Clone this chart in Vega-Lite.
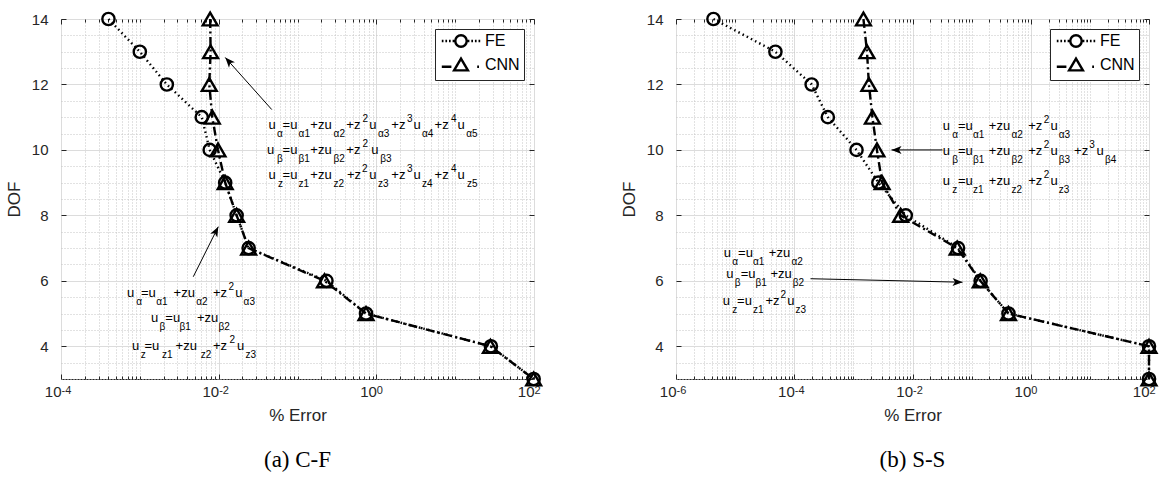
{
  "$schema": "https://vega.github.io/schema/vega-lite/v6.json",
  "padding": {"left": 4, "top": 7, "right": 4, "bottom": 4},
  "spacing": 142,
  "bounds": "flush",
  "resolve": {"scale": {"shape": "independent"}, "legend": {"shape": "independent"}},
  "config": {
    "font": "Liberation Sans",
    "view": {"stroke": "#262626", "strokeWidth": 1},
    "axis": {"labelFont": "Liberation Sans", "labelFontSize": 15, "labelColor": "#262626", "titleFont": "Liberation Sans", "titleFontSize": 17, "titleFontWeight": "normal", "titleColor": "#262626", "domain": false, "tickColor": "#262626", "tickWidth": 1}
  },
  "datasets": {
    "ptsA": [
      {"m": "FE", "x": 0.0004, "y": 14}, {"m": "FE", "x": 0.001, "y": 13}, {"m": "FE", "x": 0.0022, "y": 12}, {"m": "FE", "x": 0.0061, "y": 11}, {"m": "FE", "x": 0.0077, "y": 10}, {"m": "FE", "x": 0.0121, "y": 9}, {"m": "FE", "x": 0.0169, "y": 8}, {"m": "FE", "x": 0.024, "y": 7}, {"m": "FE", "x": 0.233, "y": 6}, {"m": "FE", "x": 0.74, "y": 5}, {"m": "FE", "x": 28.4, "y": 4}, {"m": "FE", "x": 99, "y": 3},
      {"m": "CNN", "x": 0.0078, "y": 14}, {"m": "CNN", "x": 0.0079, "y": 13}, {"m": "CNN", "x": 0.0076, "y": 12}, {"m": "CNN", "x": 0.0083, "y": 11}, {"m": "CNN", "x": 0.0098, "y": 10}, {"m": "CNN", "x": 0.0121, "y": 9}, {"m": "CNN", "x": 0.0169, "y": 8}, {"m": "CNN", "x": 0.024, "y": 7}, {"m": "CNN", "x": 0.22, "y": 6}, {"m": "CNN", "x": 0.74, "y": 5}, {"m": "CNN", "x": 28, "y": 4}, {"m": "CNN", "x": 99, "y": 3}
    ],
    "ptsB": [
      {"m": "FE", "x": 0.0000043, "y": 14}, {"m": "FE", "x": 0.000048, "y": 13}, {"m": "FE", "x": 0.000197, "y": 12}, {"m": "FE", "x": 0.00037, "y": 11}, {"m": "FE", "x": 0.00113, "y": 10}, {"m": "FE", "x": 0.00265, "y": 9}, {"m": "FE", "x": 0.0077, "y": 8}, {"m": "FE", "x": 0.059, "y": 7}, {"m": "FE", "x": 0.142, "y": 6}, {"m": "FE", "x": 0.42, "y": 5}, {"m": "FE", "x": 100, "y": 4}, {"m": "FE", "x": 100, "y": 3},
      {"m": "CNN", "x": 0.00148, "y": 14}, {"m": "CNN", "x": 0.0017, "y": 13}, {"m": "CNN", "x": 0.00183, "y": 12}, {"m": "CNN", "x": 0.0021, "y": 11}, {"m": "CNN", "x": 0.0025, "y": 10}, {"m": "CNN", "x": 0.00306, "y": 9}, {"m": "CNN", "x": 0.0063, "y": 8}, {"m": "CNN", "x": 0.057, "y": 7}, {"m": "CNN", "x": 0.14, "y": 6}, {"m": "CNN", "x": 0.42, "y": 5}, {"m": "CNN", "x": 100, "y": 4}, {"m": "CNN", "x": 100, "y": 3}
    ],
    "txtA": [
      {"r": "b", "t": "u", "x": 0.043, "y": 10.651}, {"r": "s", "t": "α", "x": 0.05497, "y": 10.651}, {"r": "b", "t": "=u", "x": 0.06474, "y": 10.651}, {"r": "s", "t": "α1", "x": 0.1033, "y": 10.651}, {"r": "b", "t": "+zu", "x": 0.1454, "y": 10.651}, {"r": "s", "t": "α2", "x": 0.2872, "y": 10.651}, {"r": "b", "t": "+z", "x": 0.4161, "y": 10.651}, {"r": "p", "t": "2", "x": 0.6699, "y": 10.651}, {"r": "b", "t": "u", "x": 0.8147, "y": 10.651}, {"r": "s", "t": "α3", "x": 1.05, "y": 10.651}, {"r": "b", "t": "+z", "x": 1.549, "y": 10.651}, {"r": "p", "t": "3", "x": 2.45, "y": 10.651}, {"r": "b", "t": "u", "x": 2.971, "y": 10.651}, {"r": "s", "t": "α4", "x": 3.797, "y": 10.651}, {"r": "b", "t": "+z", "x": 5.487, "y": 10.651}, {"r": "p", "t": "4", "x": 8.86, "y": 10.651}, {"r": "b", "t": "u", "x": 10.74, "y": 10.651}, {"r": "s", "t": "α5", "x": 13.85, "y": 10.651},
      {"r": "b", "t": "u", "x": 0.04104, "y": 9.872}, {"r": "s", "t": "β", "x": 0.05497, "y": 9.872}, {"r": "b", "t": "=u", "x": 0.06474, "y": 9.872}, {"r": "s", "t": "β1", "x": 0.1033, "y": 9.872}, {"r": "b", "t": "+zu", "x": 0.1454, "y": 9.872}, {"r": "s", "t": "β2", "x": 0.2872, "y": 9.872}, {"r": "b", "t": "+z", "x": 0.4161, "y": 9.872}, {"r": "p", "t": "2", "x": 0.6699, "y": 9.872}, {"r": "b", "t": "u", "x": 0.8636, "y": 9.872}, {"r": "s", "t": "β3", "x": 1.123, "y": 9.872},
      {"r": "b", "t": "u", "x": 0.043, "y": 9.107}, {"r": "s", "t": "z", "x": 0.0566, "y": 9.107}, {"r": "b", "t": "=u", "x": 0.06474, "y": 9.107}, {"r": "s", "t": "z1", "x": 0.1033, "y": 9.107}, {"r": "b", "t": "+zu", "x": 0.1454, "y": 9.107}, {"r": "s", "t": "z2", "x": 0.2872, "y": 9.107}, {"r": "b", "t": "+z", "x": 0.4247, "y": 9.107}, {"r": "p", "t": "2", "x": 0.6583, "y": 9.107}, {"r": "b", "t": "u", "x": 0.8147, "y": 9.107}, {"r": "s", "t": "z3", "x": 1.05, "y": 9.107}, {"r": "b", "t": "+z", "x": 1.549, "y": 9.107}, {"r": "p", "t": "3", "x": 2.45, "y": 9.107}, {"r": "b", "t": "u", "x": 2.971, "y": 9.107}, {"r": "s", "t": "z4", "x": 3.797, "y": 9.107}, {"r": "b", "t": "+z", "x": 5.487, "y": 9.107}, {"r": "p", "t": "4", "x": 8.86, "y": 9.107}, {"r": "b", "t": "u", "x": 10.74, "y": 9.107}, {"r": "s", "t": "z5", "x": 14.14, "y": 9.107},
      {"r": "b", "t": "u", "x": 0.0006877, "y": 5.514}, {"r": "s", "t": "α", "x": 0.000902, "y": 5.514}, {"r": "b", "t": "=u", "x": 0.001035, "y": 5.514}, {"r": "s", "t": "α1", "x": 0.001618, "y": 5.514}, {"r": "b", "t": "+zu", "x": 0.002682, "y": 5.514}, {"r": "s", "t": "α2", "x": 0.005204, "y": 5.514}, {"r": "b", "t": "+z", "x": 0.008478, "y": 5.514}, {"r": "p", "t": "2", "x": 0.01337, "y": 5.514}, {"r": "b", "t": "u", "x": 0.01626, "y": 5.514}, {"r": "s", "t": "α3", "x": 0.02072, "y": 5.514},
      {"r": "b", "t": "u", "x": 0.001386, "y": 4.749}, {"r": "s", "t": "β", "x": 0.001781, "y": 4.749}, {"r": "b", "t": "=u", "x": 0.002104, "y": 4.749}, {"r": "s", "t": "β1", "x": 0.003195, "y": 4.749}, {"r": "b", "t": "+zu", "x": 0.005311, "y": 4.749}, {"r": "s", "t": "β2", "x": 0.00998, "y": 4.749},
      {"r": "b", "t": "u", "x": 0.0007977, "y": 3.893}, {"r": "s", "t": "z", "x": 0.001026, "y": 3.893}, {"r": "b", "t": "=u", "x": 0.001146, "y": 3.893}, {"r": "s", "t": "z1", "x": 0.001916, "y": 3.893}, {"r": "b", "t": "+zu", "x": 0.002843, "y": 3.893}, {"r": "s", "t": "z2", "x": 0.005918, "y": 3.893}, {"r": "b", "t": "+z", "x": 0.008478, "y": 3.893}, {"r": "p", "t": "2", "x": 0.01372, "y": 3.893}, {"r": "b", "t": "u", "x": 0.01709, "y": 3.893}, {"r": "s", "t": "z3", "x": 0.02196, "y": 3.893}
    ],
    "txtB": [
      {"r": "b", "t": "u", "x": 0.03254, "y": 10.621}, {"r": "s", "t": "α", "x": 0.04693, "y": 10.621}, {"r": "b", "t": "=u", "x": 0.05885, "y": 10.621}, {"r": "s", "t": "α1", "x": 0.1054, "y": 10.621}, {"r": "b", "t": "+zu", "x": 0.1952, "y": 10.621}, {"r": "s", "t": "α2", "x": 0.4725, "y": 10.621}, {"r": "b", "t": "+z", "x": 0.9056, "y": 10.621}, {"r": "p", "t": "2", "x": 1.662, "y": 10.621}, {"r": "b", "t": "u", "x": 2.158, "y": 10.621}, {"r": "s", "t": "α3", "x": 2.982, "y": 10.621},
      {"r": "b", "t": "u", "x": 0.03254, "y": 9.856}, {"r": "s", "t": "β", "x": 0.04693, "y": 9.856}, {"r": "b", "t": "=u", "x": 0.05885, "y": 9.856}, {"r": "s", "t": "β1", "x": 0.1054, "y": 9.856}, {"r": "b", "t": "+zu", "x": 0.1952, "y": 9.856}, {"r": "s", "t": "β2", "x": 0.4725, "y": 9.856}, {"r": "b", "t": "+z", "x": 0.9056, "y": 9.856}, {"r": "p", "t": "2", "x": 1.662, "y": 9.856}, {"r": "b", "t": "u", "x": 2.158, "y": 9.856}, {"r": "s", "t": "β3", "x": 2.982, "y": 9.856}, {"r": "b", "t": "+z", "x": 5.4, "y": 9.856}, {"r": "p", "t": "3", "x": 9.8, "y": 9.856}, {"r": "b", "t": "u", "x": 12.9, "y": 9.856}, {"r": "s", "t": "β4", "x": 18.0, "y": 9.856},
      {"r": "b", "t": "u", "x": 0.03254, "y": 8.939}, {"r": "s", "t": "z", "x": 0.04693, "y": 8.939}, {"r": "b", "t": "=u", "x": 0.05885, "y": 8.939}, {"r": "s", "t": "z1", "x": 0.1054, "y": 8.939}, {"r": "b", "t": "+zu", "x": 0.1952, "y": 8.939}, {"r": "s", "t": "z2", "x": 0.4725, "y": 8.939}, {"r": "b", "t": "+z", "x": 0.9056, "y": 8.939}, {"r": "p", "t": "2", "x": 1.662, "y": 8.939}, {"r": "b", "t": "u", "x": 2.158, "y": 8.939}, {"r": "s", "t": "z3", "x": 2.982, "y": 8.939},
      {"r": "b", "t": "u", "x": 0.000006435, "y": 6.737}, {"r": "s", "t": "α", "x": 0.000008924, "y": 6.737}, {"r": "b", "t": "=u", "x": 0.0000112, "y": 6.737}, {"r": "s", "t": "α1", "x": 0.00002, "y": 6.737}, {"r": "b", "t": "+zu", "x": 0.00003712, "y": 6.737}, {"r": "s", "t": "α2", "x": 0.00008985, "y": 6.737},
      {"r": "b", "t": "u", "x": 0.000007063, "y": 6.095}, {"r": "s", "t": "β", "x": 0.000009874, "y": 6.095}, {"r": "b", "t": "=u", "x": 0.0000124, "y": 6.095}, {"r": "s", "t": "β1", "x": 0.0000222, "y": 6.095}, {"r": "b", "t": "+zu", "x": 0.00003965, "y": 6.095}, {"r": "s", "t": "β2", "x": 0.00009452, "y": 6.095},
      {"r": "b", "t": "u", "x": 0.000006188, "y": 5.269}, {"r": "s", "t": "z", "x": 0.000008924, "y": 5.269}, {"r": "b", "t": "=u", "x": 0.0000108, "y": 5.269}, {"r": "s", "t": "z1", "x": 0.00002, "y": 5.269}, {"r": "b", "t": "+z", "x": 0.00003263, "y": 5.269}, {"r": "p", "t": "2", "x": 0.00005853, "y": 5.269}, {"r": "b", "t": "u", "x": 0.000076, "y": 5.269}, {"r": "s", "t": "z3", "x": 0.000105, "y": 5.269}
    ],
    "arrA": [
      {"id": "top", "x": 0.0472, "y": 11.232, "x2": 0.01213, "y2": 12.823},
      {"id": "bot", "x": 0.004764, "y": 6.125, "x2": 0.00989, "y2": 7.654}
    ],
    "arrB": [
      {"id": "top", "x": 0.0321, "y": 10.0, "x2": 0.004416, "y2": 10.0},
      {"id": "bot", "x": 0.0001884, "y": 6.064, "x2": 0.0702, "y2": 5.957}
    ]
  },
  "hconcat": [
    {
      "width": 473,
      "height": 360,
      "title": {"text": "(a) C-F", "orient": "bottom", "anchor": "middle", "font": "Liberation Serif", "fontSize": 23, "fontWeight": "normal", "color": "black", "offset": 26},
      "resolve": {"axis": {"x": "independent", "y": "independent"}},
      "encoding": {
        "x": {"field": "x", "type": "quantitative", "scale": {"type": "log", "domain": [0.0001, 100], "nice": false}, "axis": null},
        "y": {"field": "y", "type": "quantitative", "scale": {"domain": [3, 14], "nice": false, "zero": false}, "axis": null}
      },
      "layer": [
        {
          "data": {"name": "ptsA"},
          "transform": [{"filter": "datum.m == 'FE'"}],
          "mark": {"type": "line", "color": "black", "strokeWidth": 2.4, "strokeDash": [1.5, 3.2]},
          "encoding": {
            "x": {"field": "x", "type": "quantitative", "scale": {"type": "log", "domain": [0.0001, 100], "nice": false},
              "axis": {"orient": "top", "labels": false, "grid": false, "title": null, "values": [0.0001,0.0002,0.0003,0.0004,0.0005,0.0006,0.0007,0.0008,0.0009,0.001,0.002,0.003,0.004,0.005,0.006,0.007,0.008,0.009,0.01,0.02,0.03,0.04,0.05,0.06,0.07,0.08,0.09,0.1,0.2,0.3,0.4,0.5,0.6,0.7,0.8,0.9,1,2,3,4,5,6,7,8,9,10,20,30,40,50,60,70,80,90,100],
                "tickSize": {"condition": {"test": "datum.value==0.0001||datum.value==0.01||datum.value==1||datum.value==100", "value": -5}, "value": -3}}},
            "y": {"field": "y", "type": "quantitative", "scale": {"domain": [3, 14], "nice": false, "zero": false},
              "axis": {"orient": "right", "labels": false, "grid": false, "title": null, "values": [4, 6, 8, 10, 12, 14], "tickSize": -5}},
            "order": {"field": "y", "sort": "descending"}
          }
        },
        {
          "data": {"name": "ptsA"},
          "transform": [{"filter": "datum.m == 'FE'"}],
          "mark": {"type": "point", "shape": "circle", "size": 150, "filled": false, "color": "black", "strokeWidth": 2.4, "opacity": 1},
          "encoding": {
            "x": {"field": "x", "type": "quantitative", "scale": {"type": "log", "domain": [0.0001, 100], "nice": false},
              "axis": {"orient": "bottom", "title": "% Error", "titlePadding": 6, "labelOverlap": false, "labelFlush": false, "labelPadding": 10, "labelAlign": "right", "labelDx": 2,
                "values": [0.0001,0.0002,0.0003,0.0004,0.0005,0.0006,0.0007,0.0008,0.0009,0.001,0.002,0.003,0.004,0.005,0.006,0.007,0.008,0.009,0.01,0.02,0.03,0.04,0.05,0.06,0.07,0.08,0.09,0.1,0.2,0.3,0.4,0.5,0.6,0.7,0.8,0.9,1,2,3,4,5,6,7,8,9,10,20,30,40,50,60,70,80,90,100],
                "labelExpr": "(datum.value==0.0001||datum.value==0.01||datum.value==1||datum.value==100) ? '10' : ''",
                "grid": true,
                "gridColor": {"condition": {"test": "datum.value==0.0001||datum.value==0.01||datum.value==1||datum.value==100", "value": "#dcdcdc"}, "value": "#c4c4c4"},
                "gridDash": {"condition": {"test": "datum.value==0.0001||datum.value==0.01||datum.value==1||datum.value==100", "value": []}, "value": [1, 2]},
                "tickSize": {"condition": {"test": "datum.value==0.0001||datum.value==0.01||datum.value==1||datum.value==100", "value": -5}, "value": -3}}},
            "y": {"field": "y", "type": "quantitative", "scale": {"domain": [3, 14], "nice": false, "zero": false},
              "axis": {"orient": "left", "title": "DOF", "titlePadding": 8, "labelPadding": 18,
                "values": [3, 3.5, 4, 4.5, 5, 5.5, 6, 6.5, 7, 7.5, 8, 8.5, 9, 9.5, 10, 10.5, 11, 11.5, 12, 12.5, 13, 13.5, 14],
                "labelExpr": "datum.value % 2 == 0 ? format(datum.value, 'd') : ''",
                "grid": true,
                "gridColor": {"condition": {"test": "datum.value % 2 == 0", "value": "#dcdcdc"}, "value": "#c4c4c4"},
                "gridDash": {"condition": {"test": "datum.value % 2 == 0", "value": []}, "value": [1, 2]},
                "tickSize": {"condition": {"test": "datum.value % 2 == 0", "value": -5}, "value": 0}}}
          }
        },
        {
          "data": {"name": "ptsA"},
          "transform": [{"filter": "datum.m == 'CNN'"}],
          "mark": {"type": "line", "color": "black", "strokeWidth": 2.4, "strokeDash": [9, 3.5, 2, 3.5]},
          "encoding": {"order": {"field": "y", "sort": "descending"}}
        },
        {
          "data": {"name": "ptsA"},
          "transform": [{"filter": "datum.m == 'CNN'"}],
          "mark": {"type": "point", "shape": "triangle-up", "size": 220, "filled": false, "color": "black", "strokeWidth": 2.4, "opacity": 1},
          "encoding": {
            "x": {"field": "x", "type": "quantitative", "scale": {"type": "log", "domain": [0.0001, 100], "nice": false},
              "axis": {"orient": "bottom", "title": null, "grid": false, "ticks": false, "labelOverlap": false, "labelFlush": false, "labelPadding": 5, "labelAlign": "left", "labelDx": 2.5, "labelDy": -4, "labelFontSize": 11,
                "values": [0.0001, 0.01, 1, 100],
                "labelExpr": "datum.value==0.0001 ? '-4' : datum.value==0.01 ? '-2' : datum.value==1 ? '0' : '2'"}}
          }
        },
        {
          "data": {"name": "ptsA"},
          "mark": {"type": "point", "filled": false, "color": "black", "opacity": 0, "size": 144},
          "encoding": {
            "shape": {"field": "m", "type": "nominal",
              "scale": {"domain": ["FE", "CNN"], "range": ["M0.95,0A0.95,0.95,0,1,1,-0.95,0A0.95,0.95,0,1,1,0.95,0ZM-3.2,0h0.28M-2.6,0h0.28M-2.0,0h0.28M-1.4,0h0.28M1.12,0h0.28M1.72,0h0.28M2.32,0h0.28M2.92,0h0.28", "M0,-1.05L1.15,0.9L-1.15,0.9ZM-3.2,0.3H-1.6M2.7,0.3h0.3"]},
              "legend": {"orient": "top-right", "title": null, "offset": 10, "symbolSize": 144, "symbolStrokeWidth": 2.4, "symbolStrokeColor": "black", "symbolFillColor": "transparent", "symbolOpacity": 1, "labelFontSize": 16, "labelColor": "#000000", "labelFont": "Liberation Sans", "labelOffset": 16, "symbolOffset": 14, "padding": 4, "rowPadding": 1, "strokeColor": "#262626", "fillColor": "white"}}
          }
        },
        {
          "data": {"name": "txtA"},
          "transform": [{"filter": "datum.r == 'b'"}],
          "mark": {"type": "text", "align": "left", "baseline": "alphabetic", "fontSize": 13, "font": "Liberation Sans", "color": "black"},
          "encoding": {"text": {"field": "t"}}
        },
        {
          "data": {"name": "txtA"},
          "transform": [{"filter": "datum.r == 's'"}],
          "mark": {"type": "text", "align": "left", "baseline": "alphabetic", "fontSize": 10, "dy": 8, "font": "Liberation Sans", "color": "black"},
          "encoding": {"text": {"field": "t"}}
        },
        {
          "data": {"name": "txtA"},
          "transform": [{"filter": "datum.r == 'p'"}],
          "mark": {"type": "text", "align": "left", "baseline": "alphabetic", "fontSize": 10, "dy": -7, "font": "Liberation Sans", "color": "black"},
          "encoding": {"text": {"field": "t"}}
        },
        {
          "data": {"name": "arrA"},
          "mark": {"type": "rule", "color": "black", "strokeWidth": 1},
          "encoding": {"x2": {"field": "x2"}, "y2": {"field": "y2"}}
        },
        {
          "data": {"name": "arrA"},
          "transform": [{"filter": "datum.id == 'top'"}],
          "mark": {"type": "point", "shape": "M0,0L-1,-0.4L-0.75,0L-1,0.4Z", "size": 400, "angle": 228, "filled": true, "color": "black", "opacity": 1},
          "encoding": {
            "x": {"field": "x2", "type": "quantitative", "scale": {"type": "log", "domain": [0.0001, 100], "nice": false}, "axis": null},
            "y": {"field": "y2", "type": "quantitative", "scale": {"domain": [3, 14], "nice": false, "zero": false}, "axis": null}
          }
        },
        {
          "data": {"name": "arrA"},
          "transform": [{"filter": "datum.id == 'bot'"}],
          "mark": {"type": "point", "shape": "M0,0L-1,-0.4L-0.75,0L-1,0.4Z", "size": 400, "angle": 297, "filled": true, "color": "black", "opacity": 1},
          "encoding": {
            "x": {"field": "x2", "type": "quantitative", "scale": {"type": "log", "domain": [0.0001, 100], "nice": false}, "axis": null},
            "y": {"field": "y2", "type": "quantitative", "scale": {"domain": [3, 14], "nice": false, "zero": false}, "axis": null}
          }
        }
      ]
    },
    {
      "width": 473,
      "height": 360,
      "title": {"text": "(b) S-S", "orient": "bottom", "anchor": "middle", "font": "Liberation Serif", "fontSize": 23, "fontWeight": "normal", "color": "black", "offset": 26},
      "resolve": {"axis": {"x": "independent", "y": "independent"}},
      "encoding": {
        "x": {"field": "x", "type": "quantitative", "scale": {"type": "log", "domain": [0.000001, 100], "nice": false}, "axis": null},
        "y": {"field": "y", "type": "quantitative", "scale": {"domain": [3, 14], "nice": false, "zero": false}, "axis": null}
      },
      "layer": [
        {
          "data": {"name": "ptsB"},
          "transform": [{"filter": "datum.m == 'FE'"}],
          "mark": {"type": "line", "color": "black", "strokeWidth": 2.4, "strokeDash": [1.5, 3.2]},
          "encoding": {
            "x": {"field": "x", "type": "quantitative", "scale": {"type": "log", "domain": [0.000001, 100], "nice": false},
              "axis": {"orient": "top", "labels": false, "grid": false, "title": null, "values": [0.000001,0.000002,0.000003,0.000004,0.000005,0.000006,0.000007,0.000008,0.000009,0.00001,0.00002,0.00003,0.00004,0.00005,0.00006,0.00007,0.00008,0.00009,0.0001,0.0002,0.0003,0.0004,0.0005,0.0006,0.0007,0.0008,0.0009,0.001,0.002,0.003,0.004,0.005,0.006,0.007,0.008,0.009,0.01,0.02,0.03,0.04,0.05,0.06,0.07,0.08,0.09,0.1,0.2,0.3,0.4,0.5,0.6,0.7,0.8,0.9,1,2,3,4,5,6,7,8,9,10,20,30,40,50,60,70,80,90,100],
                "tickSize": {"condition": {"test": "datum.value==0.000001||datum.value==0.0001||datum.value==0.01||datum.value==1||datum.value==100", "value": -5}, "value": -3}}},
            "y": {"field": "y", "type": "quantitative", "scale": {"domain": [3, 14], "nice": false, "zero": false},
              "axis": {"orient": "right", "labels": false, "grid": false, "title": null, "values": [4, 6, 8, 10, 12, 14], "tickSize": -5}},
            "order": {"field": "y", "sort": "descending"}
          }
        },
        {
          "data": {"name": "ptsB"},
          "transform": [{"filter": "datum.m == 'FE'"}],
          "mark": {"type": "point", "shape": "circle", "size": 150, "filled": false, "color": "black", "strokeWidth": 2.4, "opacity": 1},
          "encoding": {
            "x": {"field": "x", "type": "quantitative", "scale": {"type": "log", "domain": [0.000001, 100], "nice": false},
              "axis": {"orient": "bottom", "title": "% Error", "titlePadding": 6, "labelOverlap": false, "labelFlush": false, "labelPadding": 10, "labelAlign": "right", "labelDx": 2,
                "values": [0.000001,0.000002,0.000003,0.000004,0.000005,0.000006,0.000007,0.000008,0.000009,0.00001,0.00002,0.00003,0.00004,0.00005,0.00006,0.00007,0.00008,0.00009,0.0001,0.0002,0.0003,0.0004,0.0005,0.0006,0.0007,0.0008,0.0009,0.001,0.002,0.003,0.004,0.005,0.006,0.007,0.008,0.009,0.01,0.02,0.03,0.04,0.05,0.06,0.07,0.08,0.09,0.1,0.2,0.3,0.4,0.5,0.6,0.7,0.8,0.9,1,2,3,4,5,6,7,8,9,10,20,30,40,50,60,70,80,90,100],
                "labelExpr": "(datum.value==0.000001||datum.value==0.0001||datum.value==0.01||datum.value==1||datum.value==100) ? '10' : ''",
                "grid": true,
                "gridColor": {"condition": {"test": "datum.value==0.000001||datum.value==0.0001||datum.value==0.01||datum.value==1||datum.value==100", "value": "#dcdcdc"}, "value": "#c4c4c4"},
                "gridDash": {"condition": {"test": "datum.value==0.000001||datum.value==0.0001||datum.value==0.01||datum.value==1||datum.value==100", "value": []}, "value": [1, 2]},
                "tickSize": {"condition": {"test": "datum.value==0.000001||datum.value==0.0001||datum.value==0.01||datum.value==1||datum.value==100", "value": -5}, "value": -3}}},
            "y": {"field": "y", "type": "quantitative", "scale": {"domain": [3, 14], "nice": false, "zero": false},
              "axis": {"orient": "left", "title": "DOF", "titlePadding": 8, "labelPadding": 18,
                "values": [3, 3.5, 4, 4.5, 5, 5.5, 6, 6.5, 7, 7.5, 8, 8.5, 9, 9.5, 10, 10.5, 11, 11.5, 12, 12.5, 13, 13.5, 14],
                "labelExpr": "datum.value % 2 == 0 ? format(datum.value, 'd') : ''",
                "grid": true,
                "gridColor": {"condition": {"test": "datum.value % 2 == 0", "value": "#dcdcdc"}, "value": "#c4c4c4"},
                "gridDash": {"condition": {"test": "datum.value % 2 == 0", "value": []}, "value": [1, 2]},
                "tickSize": {"condition": {"test": "datum.value % 2 == 0", "value": -5}, "value": 0}}}
          }
        },
        {
          "data": {"name": "ptsB"},
          "transform": [{"filter": "datum.m == 'CNN'"}],
          "mark": {"type": "line", "color": "black", "strokeWidth": 2.4, "strokeDash": [9, 3.5, 2, 3.5]},
          "encoding": {"order": {"field": "y", "sort": "descending"}}
        },
        {
          "data": {"name": "ptsB"},
          "transform": [{"filter": "datum.m == 'CNN'"}],
          "mark": {"type": "point", "shape": "triangle-up", "size": 220, "filled": false, "color": "black", "strokeWidth": 2.4, "opacity": 1},
          "encoding": {
            "x": {"field": "x", "type": "quantitative", "scale": {"type": "log", "domain": [0.000001, 100], "nice": false},
              "axis": {"orient": "bottom", "title": null, "grid": false, "ticks": false, "labelOverlap": false, "labelFlush": false, "labelPadding": 5, "labelAlign": "left", "labelDx": 2.5, "labelDy": -4, "labelFontSize": 11,
                "values": [0.000001, 0.0001, 0.01, 1, 100],
                "labelExpr": "datum.value==0.000001 ? '-6' : datum.value==0.0001 ? '-4' : datum.value==0.01 ? '-2' : datum.value==1 ? '0' : '2'"}}
          }
        },
        {
          "data": {"name": "ptsB"},
          "mark": {"type": "point", "filled": false, "color": "black", "opacity": 0, "size": 144},
          "encoding": {
            "shape": {"field": "m", "type": "nominal",
              "scale": {"domain": ["FE", "CNN"], "range": ["M0.95,0A0.95,0.95,0,1,1,-0.95,0A0.95,0.95,0,1,1,0.95,0ZM-3.2,0h0.28M-2.6,0h0.28M-2.0,0h0.28M-1.4,0h0.28M1.12,0h0.28M1.72,0h0.28M2.32,0h0.28M2.92,0h0.28", "M0,-1.05L1.15,0.9L-1.15,0.9ZM-3.2,0.3H-1.6M2.7,0.3h0.3"]},
              "legend": {"orient": "top-right", "title": null, "offset": 10, "symbolSize": 144, "symbolStrokeWidth": 2.4, "symbolStrokeColor": "black", "symbolFillColor": "transparent", "symbolOpacity": 1, "labelFontSize": 16, "labelColor": "#000000", "labelFont": "Liberation Sans", "labelOffset": 16, "symbolOffset": 14, "padding": 4, "rowPadding": 1, "strokeColor": "#262626", "fillColor": "white"}}
          }
        },
        {
          "data": {"name": "txtB"},
          "transform": [{"filter": "datum.r == 'b'"}],
          "mark": {"type": "text", "align": "left", "baseline": "alphabetic", "fontSize": 13, "font": "Liberation Sans", "color": "black"},
          "encoding": {"text": {"field": "t"}}
        },
        {
          "data": {"name": "txtB"},
          "transform": [{"filter": "datum.r == 's'"}],
          "mark": {"type": "text", "align": "left", "baseline": "alphabetic", "fontSize": 10, "dy": 8, "font": "Liberation Sans", "color": "black"},
          "encoding": {"text": {"field": "t"}}
        },
        {
          "data": {"name": "txtB"},
          "transform": [{"filter": "datum.r == 'p'"}],
          "mark": {"type": "text", "align": "left", "baseline": "alphabetic", "fontSize": 10, "dy": -7, "font": "Liberation Sans", "color": "black"},
          "encoding": {"text": {"field": "t"}}
        },
        {
          "data": {"name": "arrB"},
          "mark": {"type": "rule", "color": "black", "strokeWidth": 1},
          "encoding": {"x2": {"field": "x2"}, "y2": {"field": "y2"}}
        },
        {
          "data": {"name": "arrB"},
          "transform": [{"filter": "datum.id == 'top'"}],
          "mark": {"type": "point", "shape": "M0,0L-1,-0.4L-0.75,0L-1,0.4Z", "size": 400, "angle": 180, "filled": true, "color": "black", "opacity": 1},
          "encoding": {
            "x": {"field": "x2", "type": "quantitative", "scale": {"type": "log", "domain": [0.000001, 100], "nice": false}, "axis": null},
            "y": {"field": "y2", "type": "quantitative", "scale": {"domain": [3, 14], "nice": false, "zero": false}, "axis": null}
          }
        },
        {
          "data": {"name": "arrB"},
          "transform": [{"filter": "datum.id == 'bot'"}],
          "mark": {"type": "point", "shape": "M0,0L-1,-0.4L-0.75,0L-1,0.4Z", "size": 400, "angle": 1, "filled": true, "color": "black", "opacity": 1},
          "encoding": {
            "x": {"field": "x2", "type": "quantitative", "scale": {"type": "log", "domain": [0.000001, 100], "nice": false}, "axis": null},
            "y": {"field": "y2", "type": "quantitative", "scale": {"domain": [3, 14], "nice": false, "zero": false}, "axis": null}
          }
        }
      ]
    }
  ]
}
